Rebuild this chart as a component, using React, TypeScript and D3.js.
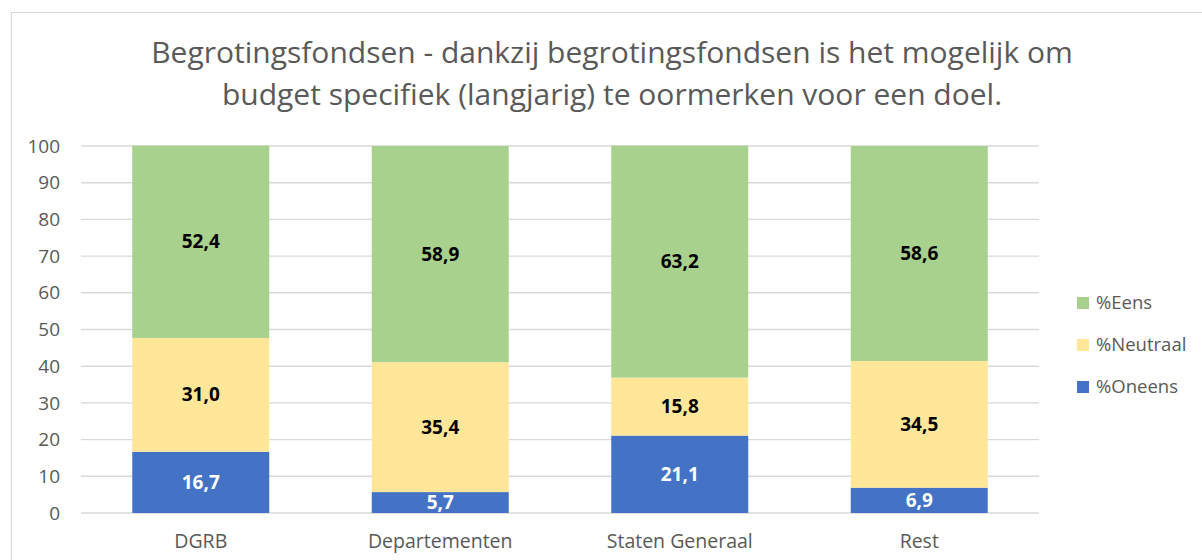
import React from "react";
import * as d3 from "d3";

const categories = ["DGRB", "Departementen", "Staten Generaal", "Rest"];
const oneens = [16.7, 5.7, 21.1, 6.9];
const neutraal = [31.0, 35.4, 15.8, 34.5];
const eens = [52.4, 58.9, 63.2, 58.6];
const seriesNames = ["%Oneens", "%Neutraal", "%Eens"];
const yTicks = [0, 10, 20, 30, 40, 50, 60, 70, 80, 90, 100];
const titleLines = [
  "Begrotingsfondsen - dankzij begrotingsfondsen is het mogelijk om",
  "budget specifiek (langjarig) te oormerken voor een doel.",
];

const colors = ["#4472C4", "#FFE699", "#A9D18E"];
const labelColors = ["#FFFFFF", "#000000", "#000000"];
const FONT = "'Open Sans', sans-serif";

export default function App() {
  const W = 1202, H = 560;
  const x = d3.scaleBand<string>().domain(categories).range([81, 1039]).paddingInner(0.428).paddingOuter(0.214);
  const y = d3.scaleLinear().domain([0, 100]).range([513, 146]);
  const rows = categories.map((c, i) => ({ cat: c, Oneens: oneens[i], Neutraal: neutraal[i], Eens: eens[i] }));
  const stack = d3.stack<any>().keys(["Oneens", "Neutraal", "Eens"]);
  const layers = stack(rows);
  const fmt = (v: number) => v.toFixed(1).replace(".", ",");
  const legendOrder = [2, 1, 0];
  const legendY = [303, 345, 387];

  return (
    <svg width={W} height={H} style={{ position: "absolute", left: 0, top: 0, background: "#fff" }} fontFamily={FONT}>
      <rect x={0} y={0} width={W} height={H} fill="#fff" />
      <rect x={11.5} y={12.5} width={1210} height={570} fill="none" stroke="#D9D9D9" strokeWidth={1.2} />
      {titleLines.map((t, i) => (
        <text key={i} x={612} y={63 + i * 42} textAnchor="middle" fontSize={30} fill="#595959">
          {t}
        </text>
      ))}
      {yTicks.map((t) => (
        <g key={t}>
          <line x1={81} x2={1039} y1={y(t)} y2={y(t)} stroke="#D9D9D9" strokeWidth={1.4} />
          <text x={60} y={y(t)} dy="0.35em" textAnchor="end" fontSize={19} fill="#595959">
            {t}
          </text>
        </g>
      ))}
      {layers.map((layer, li) => (
        <g key={li}>
          {layer.map((d: any, di: number) => (
            <rect
              key={di}
              x={x(categories[di])}
              width={x.bandwidth()}
              y={y(d[1])}
              height={y(d[0]) - y(d[1])}
              fill={colors[li]}
            />
          ))}
          {layer.map((d: any, di: number) => (
            <text
              key={"t" + di}
              x={(x(categories[di]) as number) + x.bandwidth() / 2}
              y={y((d[0] + d[1]) / 2)}
              dy="0.35em"
              textAnchor="middle"
              fontSize={19}
              fontWeight="bold"
              fill={labelColors[li]}
            >
              {fmt(d[1] - d[0])}
            </text>
          ))}
        </g>
      ))}
      {categories.map((c) => (
        <text key={c} x={(x(c) as number) + x.bandwidth() / 2} y={548} textAnchor="middle" fontSize={19.5} fill="#595959">
          {c}
        </text>
      ))}
      {legendOrder.map((si, k) => (
        <g key={si}>
          <rect x={1077} y={legendY[k] - 6} width={12} height={12} fill={colors[si]} />
          <text x={1096} y={legendY[k]} dy="0.35em" fontSize={18.5} fill="#595959">
            {seriesNames[si]}
          </text>
        </g>
      ))}
    </svg>
  );
}
